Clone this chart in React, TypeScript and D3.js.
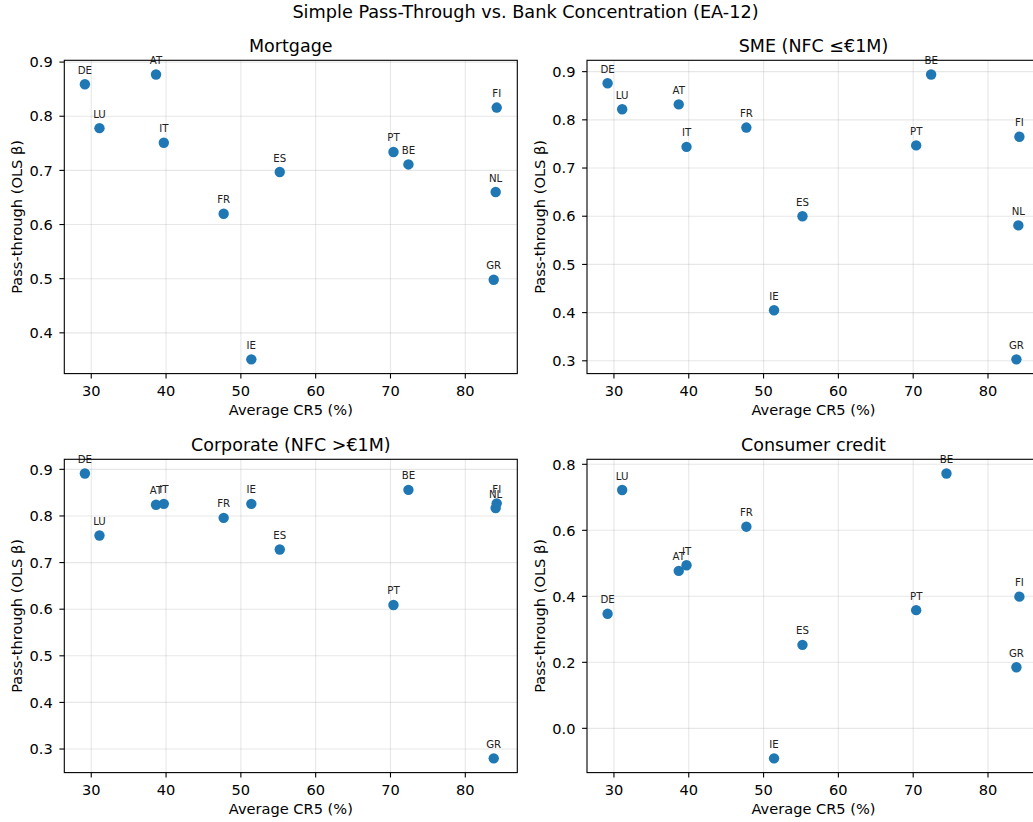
import React from "react";
import * as d3 from "d3";

const countries = ["DE", "AT", "LU", "IT", "FR", "ES", "IE", "PT", "BE", "FI", "NL", "GR"];
const cr5 = [29.15, 38.66, 31.1, 39.7, 47.7, 55.2, 51.4, 70.4, 72.4, 84.2, 84.06, 83.8];

const mortgage = [0.859, 0.877, 0.778, 0.751, 0.62, 0.697, 0.351, 0.734, 0.711, 0.816, 0.66, 0.498];
const sme = [0.876, 0.832, 0.822, 0.744, 0.784, 0.6, 0.405, 0.747, 0.894, 0.765, 0.581, 0.303];
const corporate = [0.891, 0.824, 0.758, 0.826, 0.796, 0.728, 0.826, 0.609, 0.856, 0.827, 0.817, 0.28];

// Consumer credit has no NL observation
const consumerCountries = ["DE", "AT", "LU", "IT", "FR", "ES", "IE", "PT", "BE", "FI", "GR"];
const cr5Consumer = [29.15, 38.66, 31.1, 39.7, 47.7, 55.2, 51.4, 70.4, 74.45, 84.2, 83.8];
const consumer = [0.347, 0.477, 0.722, 0.494, 0.611, 0.253, -0.091, 0.358, 0.772, 0.399, 0.185];

const xTicks = [30, 40, 50, 60, 70, 80];
const yTicksMortgage = [0.4, 0.5, 0.6, 0.7, 0.8, 0.9];
const yTicksSme = [0.3, 0.4, 0.5, 0.6, 0.7, 0.8, 0.9];
const yTicksCorporate = [0.3, 0.4, 0.5, 0.6, 0.7, 0.8, 0.9];
const yTicksConsumer = [0.0, 0.2, 0.4, 0.6, 0.8];

const titles = ["Mortgage", "SME (NFC ≤€1M)", "Corporate (NFC >€1M)", "Consumer credit"];
const suptitle = "Simple Pass-Through vs. Bank Concentration (EA-12)";
const xLabel = "Average CR5 (%)";
const yLabel = "Pass-through (OLS β)";

const FONT = "DejaVu Sans, sans-serif";
const BLUE = "#1f77b4";
const FS_TITLE = 17.5;
const FS_LABEL = 14.6;
const FS_ANN = 10.2;

type PanelProps = {
  title: string;
  names: string[];
  xs: number[];
  ys: number[];
  yTicks: number[];
  yFmt: (v: number) => string;
  left: number;
  top: number;
  width: number;
  height: number;
  clipId: string;
};

function padDomain(vals: number[]): [number, number] {
  const mn = d3.min(vals)!;
  const mx = d3.max(vals)!;
  const r = mx - mn;
  return [mn - 0.05 * r, mx + 0.05 * r];
}

function Panel({ title, names, xs, ys, yTicks, yFmt, left, top, width, height, clipId }: PanelProps) {
  const x = d3.scaleLinear().domain(padDomain(xs)).range([left, left + width]);
  const y = d3.scaleLinear().domain(padDomain(ys)).range([top + height, top]);
  const bottom = top + height;
  const right = left + width;
  return (
    <g>
      <defs>
        <clipPath id={clipId}>
          <rect x={left} y={top} width={width} height={height} />
        </clipPath>
      </defs>
      <g clipPath={`url(#${clipId})`}>
        {xTicks.map((t) => (
          <line key={"gx" + t} x1={x(t)} x2={x(t)} y1={top} y2={bottom} stroke="#b0b0b0" strokeOpacity={0.3} strokeWidth={1.1} />
        ))}
        {yTicks.map((t) => (
          <line key={"gy" + t} x1={left} x2={right} y1={y(t)} y2={y(t)} stroke="#b0b0b0" strokeOpacity={0.3} strokeWidth={1.1} />
        ))}
      </g>
      {xs.map((v, i) => (
        <circle key={"p" + i} cx={x(v)} cy={y(ys[i])} r={5.2} fill={BLUE} />
      ))}
      {xs.map((v, i) => (
        <text key={"l" + i} x={x(v)} y={y(ys[i]) - 10.5} textAnchor="middle" fontSize={FS_ANN} fill="#222" fontFamily={FONT}>
          {names[i]}
        </text>
      ))}
      <rect x={left} y={top} width={width} height={height} fill="none" stroke="#000" strokeWidth={1.1} />
      {xTicks.map((t) => (
        <g key={"xt" + t}>
          <line x1={x(t)} x2={x(t)} y1={bottom} y2={bottom + 4.9} stroke="#000" strokeWidth={1.1} />
          <text x={x(t)} y={bottom + 22} textAnchor="middle" fontSize={FS_LABEL} fill="#000" fontFamily={FONT}>
            {t}
          </text>
        </g>
      ))}
      {yTicks.map((t) => (
        <g key={"yt" + t}>
          <line x1={left - 4.9} x2={left} y1={y(t)} y2={y(t)} stroke="#000" strokeWidth={1.1} />
          <text x={left - 11.5} y={y(t)} dy="0.36em" textAnchor="end" fontSize={FS_LABEL} fill="#000" fontFamily={FONT}>
            {yFmt(t)}
          </text>
        </g>
      ))}
      <text x={left + width / 2} y={bottom + 41.5} textAnchor="middle" fontSize={FS_LABEL} fill="#000" fontFamily={FONT}>
        {xLabel}
      </text>
      <text
        transform={`translate(${left - 47},${top + height / 2}) rotate(-90)`}
        dy="0.35em"
        textAnchor="middle"
        fontSize={FS_LABEL}
        fill="#000"
        fontFamily={FONT}
      >
        {yLabel}
      </text>
      <text x={left + width / 2} y={top - 8.5} textAnchor="middle" fontSize={FS_TITLE} fill="#000" fontFamily={FONT}>
        {title}
      </text>
    </g>
  );
}

export default function App() {
  const W = 1033;
  const H = 822;
  const pw = 453;
  const ph = 313.3;
  const lefts = [64.3, 587];
  const tops = [60.3, 459.3];
  const fmt1 = d3.format(".1f");
  return (
    <svg width={W} height={H} style={{ position: "absolute", left: 0, top: 0, background: "#fff" }}>
      <rect x={0} y={0} width={W} height={H} fill="#fff" />
      <text x={525.5} y={17.5} textAnchor="middle" fontSize={17.7} fill="#000" fontFamily={FONT}>
        {suptitle}
      </text>
      <Panel title={titles[0]} names={countries} xs={cr5} ys={mortgage} yTicks={yTicksMortgage} yFmt={fmt1} left={lefts[0]} top={tops[0]} width={pw} height={ph} clipId="c0" />
      <Panel title={titles[1]} names={countries} xs={cr5} ys={sme} yTicks={yTicksSme} yFmt={fmt1} left={lefts[1]} top={tops[0]} width={pw} height={ph} clipId="c1" />
      <Panel title={titles[2]} names={countries} xs={cr5} ys={corporate} yTicks={yTicksCorporate} yFmt={fmt1} left={lefts[0]} top={tops[1]} width={pw} height={ph} clipId="c2" />
      <Panel title={titles[3]} names={consumerCountries} xs={cr5Consumer} ys={consumer} yTicks={yTicksConsumer} yFmt={fmt1} left={lefts[1]} top={tops[1]} width={pw} height={ph} clipId="c3" />
    </svg>
  );
}
